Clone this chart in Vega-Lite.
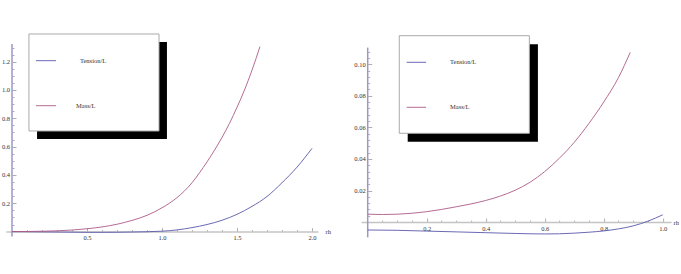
{
  "$schema": "https://vega.github.io/schema/vega-lite/v6.json",
  "padding": {"left": 1, "top": 30, "right": 0, "bottom": 0},
  "background": "white",
  "bounds": "flush",
  "spacing": 43.1,
  "config": {
    "view": {"stroke": null},
    "axis": {
      "labelFont": "Liberation Serif", "labelFontSize": 6.5, "labelColor": "#333",
      "titleFont": "Liberation Serif", "titleFontSize": 6.5, "titleFontWeight": "normal", "titleColor": "#333",
      "grid": false, "tickColor": "#999", "tickWidth": 0.8,
      "domainColor": "#c4c4c4", "domainWidth": 1.5, "labelOverlap": false, "labelFlush": false
    }
  },
  "datasets": {
    "leftCurves": [
      {"series": "Tension/L", "x": 0, "y": 0}, {"series": "Tension/L", "x": 0.1, "y": -0.001}, {"series": "Tension/L", "x": 0.2, "y": -0.002},
      {"series": "Tension/L", "x": 0.3, "y": -0.003}, {"series": "Tension/L", "x": 0.4, "y": -0.004}, {"series": "Tension/L", "x": 0.5, "y": -0.005},
      {"series": "Tension/L", "x": 0.6, "y": -0.005}, {"series": "Tension/L", "x": 0.7, "y": -0.0045}, {"series": "Tension/L", "x": 0.8, "y": -0.003},
      {"series": "Tension/L", "x": 0.9, "y": -0.001}, {"series": "Tension/L", "x": 1.0, "y": 0.003}, {"series": "Tension/L", "x": 1.1, "y": 0.012},
      {"series": "Tension/L", "x": 1.2, "y": 0.028}, {"series": "Tension/L", "x": 1.3, "y": 0.05}, {"series": "Tension/L", "x": 1.4, "y": 0.08},
      {"series": "Tension/L", "x": 1.5, "y": 0.122}, {"series": "Tension/L", "x": 1.6, "y": 0.178}, {"series": "Tension/L", "x": 1.7, "y": 0.248},
      {"series": "Tension/L", "x": 1.8, "y": 0.345}, {"series": "Tension/L", "x": 1.9, "y": 0.455}, {"series": "Tension/L", "x": 2.0, "y": 0.588},
      {"series": "Mass/L", "x": 0, "y": 0}, {"series": "Mass/L", "x": 0.1, "y": 0.0008}, {"series": "Mass/L", "x": 0.2, "y": 0.0025},
      {"series": "Mass/L", "x": 0.3, "y": 0.0055}, {"series": "Mass/L", "x": 0.4, "y": 0.011}, {"series": "Mass/L", "x": 0.5, "y": 0.02},
      {"series": "Mass/L", "x": 0.6, "y": 0.033}, {"series": "Mass/L", "x": 0.7, "y": 0.052}, {"series": "Mass/L", "x": 0.8, "y": 0.079},
      {"series": "Mass/L", "x": 0.9, "y": 0.115}, {"series": "Mass/L", "x": 1.0, "y": 0.168}, {"series": "Mass/L", "x": 1.1, "y": 0.24},
      {"series": "Mass/L", "x": 1.2, "y": 0.345}, {"series": "Mass/L", "x": 1.25, "y": 0.415}, {"series": "Mass/L", "x": 1.3, "y": 0.492},
      {"series": "Mass/L", "x": 1.35, "y": 0.575}, {"series": "Mass/L", "x": 1.4, "y": 0.665}, {"series": "Mass/L", "x": 1.45, "y": 0.765},
      {"series": "Mass/L", "x": 1.5, "y": 0.878}, {"series": "Mass/L", "x": 1.55, "y": 1.0}, {"series": "Mass/L", "x": 1.6, "y": 1.14},
      {"series": "Mass/L", "x": 1.653, "y": 1.306}
    ],
    "rightCurves": [
      {"series": "Tension/L", "x": 0, "y": -0.005}, {"series": "Tension/L", "x": 0.1, "y": -0.0052}, {"series": "Tension/L", "x": 0.2, "y": -0.0057},
      {"series": "Tension/L", "x": 0.3, "y": -0.0062}, {"series": "Tension/L", "x": 0.4, "y": -0.0067}, {"series": "Tension/L", "x": 0.5, "y": -0.0072},
      {"series": "Tension/L", "x": 0.6, "y": -0.0075}, {"series": "Tension/L", "x": 0.65, "y": -0.0074}, {"series": "Tension/L", "x": 0.7, "y": -0.007},
      {"series": "Tension/L", "x": 0.75, "y": -0.0064}, {"series": "Tension/L", "x": 0.8, "y": -0.0056}, {"series": "Tension/L", "x": 0.85, "y": -0.0043},
      {"series": "Tension/L", "x": 0.9, "y": -0.0024}, {"series": "Tension/L", "x": 0.95, "y": 0.0006}, {"series": "Tension/L", "x": 1.0, "y": 0.0046},
      {"series": "Mass/L", "x": 0, "y": 0.005}, {"series": "Mass/L", "x": 0.05, "y": 0.0048}, {"series": "Mass/L", "x": 0.1, "y": 0.005},
      {"series": "Mass/L", "x": 0.15, "y": 0.0056}, {"series": "Mass/L", "x": 0.2, "y": 0.0066}, {"series": "Mass/L", "x": 0.25, "y": 0.008},
      {"series": "Mass/L", "x": 0.3, "y": 0.0097}, {"series": "Mass/L", "x": 0.35, "y": 0.0115}, {"series": "Mass/L", "x": 0.4, "y": 0.0137},
      {"series": "Mass/L", "x": 0.45, "y": 0.0165}, {"series": "Mass/L", "x": 0.5, "y": 0.0202}, {"series": "Mass/L", "x": 0.55, "y": 0.0252},
      {"series": "Mass/L", "x": 0.6, "y": 0.032}, {"series": "Mass/L", "x": 0.65, "y": 0.0405}, {"series": "Mass/L", "x": 0.7, "y": 0.0505},
      {"series": "Mass/L", "x": 0.75, "y": 0.0625}, {"series": "Mass/L", "x": 0.8, "y": 0.076}, {"series": "Mass/L", "x": 0.85, "y": 0.0915},
      {"series": "Mass/L", "x": 0.89, "y": 0.1075}
    ],
    "leftAxisLine": [{"x": 0, "y": -0.035, "y2": 1.325}],
    "rightAxisLine": [{"x": 0, "y": -0.0097, "y2": 0.1105}],
    "leftBox": [
      {"part": "shadow", "x": 0.167, "x2": 1.033, "y": 0.654, "y2": 1.339},
      {"part": "box", "x": 0.113, "x2": 0.98, "y": 0.7105, "y2": 1.3955}
    ],
    "rightBox": [
      {"part": "shadow", "x": 0.1356, "x2": 0.577, "y": 0.0509, "y2": 0.1126},
      {"part": "box", "x": 0.107, "x2": 0.548, "y": 0.05624, "y2": 0.11805}
    ],
    "leftLegend": [
      {"series": "Tension/L", "x": 0.16, "x2": 0.293, "y": 1.2069, "tx": 0.453},
      {"series": "Mass/L", "x": 0.16, "x2": 0.293, "y": 0.8891, "tx": 0.427}
    ],
    "rightLegend": [
      {"series": "Tension/L", "x": 0.132, "x2": 0.198, "y": 0.1012, "tx": 0.279},
      {"series": "Mass/L", "x": 0.132, "x2": 0.198, "y": 0.0727, "tx": 0.279}
    ]
  },
  "hconcat": [
    {
      "width": 312, "height": 214,
      "resolve": {"axis": {"x": "independent", "y": "independent"}},
      "layer": [
        {
          "data": {"name": "leftAxisLine"},
          "mark": {"type": "rule", "color": "#9a98c8", "strokeWidth": 1.5},
          "encoding": {
            "x": {"field": "x", "type": "quantitative", "scale": {"domain": [-0.04, 2.04], "nice": false, "zero": false},
              "axis": {"orient": "bottom", "offset": -12.4, "values": [0.1,0.2,0.3,0.4,0.6,0.7,0.8,0.9,1.1,1.2,1.3,1.4,1.6,1.7,1.8,1.9], "tickSize": -2, "labels": false, "domain": false, "title": null}},
            "y": {"field": "y", "type": "quantitative", "scale": {"domain": [-0.08757, 1.4237], "nice": false, "zero": false},
              "axis": {"orient": "left", "offset": -6, "values": [0.05,0.1,0.15,0.25,0.3,0.35,0.45,0.5,0.55,0.65,0.7,0.75,0.85,0.9,0.95,1.05,1.1,1.15,1.25,1.3], "tickSize": -2, "labels": false, "domain": false, "title": null}},
            "y2": {"field": "y2"}
          }
        },
        {
          "data": {"name": "leftCurves"},
          "mark": {"type": "line", "strokeWidth": 0.9, "interpolate": "monotone"},
          "encoding": {
            "x": {"field": "x", "type": "quantitative", "scale": {"domain": [-0.04, 2.04], "nice": false, "zero": false},
              "axis": {"orient": "bottom", "offset": -12.4, "values": [0.5, 1, 1.5, 2], "format": ".1f", "tickSize": -4, "labelPadding": 7, "domain": true,
                "title": "rh", "titleX": 319, "titleY": 0, "titleAlign": "left", "titleBaseline": "middle", "titleAngle": 0}},
            "y": {"field": "y", "type": "quantitative", "scale": {"domain": [-0.08757, 1.4237], "nice": false, "zero": false},
              "axis": {"orient": "left", "offset": -6, "values": [0.2, 0.4, 0.6, 0.8, 1.0, 1.2], "format": ".1f", "tickSize": -4, "labelPadding": 6.5, "domain": false, "title": null}},
            "color": {"field": "series", "type": "nominal", "scale": {"domain": ["Tension/L", "Mass/L"], "range": ["#5a58ad", "#ad5a88"]}, "legend": null}
          }
        },
        {
          "data": {"name": "leftBox"},
          "transform": [{"filter": "datum.part === 'shadow'"}],
          "mark": {"type": "rect", "fill": "black"},
          "encoding": {
            "x": {"field": "x", "type": "quantitative", "scale": {"domain": [-0.04, 2.04], "nice": false, "zero": false}, "axis": null},
            "x2": {"field": "x2"},
            "y": {"field": "y", "type": "quantitative", "scale": {"domain": [-0.08757, 1.4237], "nice": false, "zero": false}, "axis": null},
            "y2": {"field": "y2"}
          }
        },
        {
          "data": {"name": "leftBox"},
          "transform": [{"filter": "datum.part === 'box'"}],
          "mark": {"type": "rect", "fill": "white", "stroke": "#aaaaaa", "strokeWidth": 1},
          "encoding": {
            "x": {"field": "x", "type": "quantitative", "scale": {"domain": [-0.04, 2.04], "nice": false, "zero": false}, "axis": null},
            "x2": {"field": "x2"},
            "y": {"field": "y", "type": "quantitative", "scale": {"domain": [-0.08757, 1.4237], "nice": false, "zero": false}, "axis": null},
            "y2": {"field": "y2"}
          }
        },
        {
          "data": {"name": "leftLegend"},
          "mark": {"type": "rule", "strokeWidth": 0.9},
          "encoding": {
            "x": {"field": "x", "type": "quantitative", "scale": {"domain": [-0.04, 2.04], "nice": false, "zero": false}, "axis": null},
            "x2": {"field": "x2"},
            "y": {"field": "y", "type": "quantitative", "scale": {"domain": [-0.08757, 1.4237], "nice": false, "zero": false}, "axis": null},
            "color": {"field": "series", "type": "nominal", "scale": {"domain": ["Tension/L", "Mass/L"], "range": ["#5a58ad", "#ad5a88"]}, "legend": null}
          }
        },
        {
          "data": {"name": "leftLegend"},
          "mark": {"type": "text", "align": "left", "baseline": "middle", "font": "Liberation Serif", "fontSize": 6.5, "color": "#333"},
          "encoding": {
            "x": {"field": "tx", "type": "quantitative", "scale": {"domain": [-0.04, 2.04], "nice": false, "zero": false}, "axis": null},
            "y": {"field": "y", "type": "quantitative", "scale": {"domain": [-0.08757, 1.4237], "nice": false, "zero": false}, "axis": null},
            "text": {"field": "series"}
          }
        }
      ]
    },
    {
      "width": 310, "height": 214,
      "resolve": {"axis": {"x": "independent", "y": "independent"}},
      "layer": [
        {
          "data": {"name": "rightAxisLine"},
          "mark": {"type": "rule", "color": "#9a98c8", "strokeWidth": 1.5},
          "encoding": {
            "x": {"field": "x", "type": "quantitative", "scale": {"domain": [-0.0224, 1.0285], "nice": false, "zero": false},
              "axis": {"orient": "bottom", "offset": -21.9, "values": [0.05,0.1,0.15,0.25,0.3,0.35,0.45,0.5,0.55,0.65,0.7,0.75,0.85,0.9,0.95], "tickSize": -2, "labels": false, "domain": false, "title": null}},
            "y": {"field": "y", "type": "quantitative", "scale": {"domain": [-0.01387, 0.12166], "nice": false, "zero": false},
              "axis": {"orient": "left", "offset": -6.6, "values": [0.004,0.008,0.012,0.016,0.024,0.028,0.032,0.036,0.044,0.048,0.052,0.056,0.064,0.068,0.072,0.076,0.084,0.088,0.092,0.096,0.104,0.108], "tickSize": -2, "labels": false, "domain": false, "title": null}},
            "y2": {"field": "y2"}
          }
        },
        {
          "data": {"name": "rightCurves"},
          "mark": {"type": "line", "strokeWidth": 0.9, "interpolate": "monotone"},
          "encoding": {
            "x": {"field": "x", "type": "quantitative", "scale": {"domain": [-0.0224, 1.0285], "nice": false, "zero": false},
              "axis": {"orient": "bottom", "offset": -21.9, "values": [0.2, 0.4, 0.6, 0.8, 1.0], "format": ".1f", "tickSize": -4, "labelPadding": 7, "domain": true,
                "title": "rh", "titleX": 312, "titleY": 0, "titleAlign": "left", "titleBaseline": "middle", "titleAngle": 0}},
            "y": {"field": "y", "type": "quantitative", "scale": {"domain": [-0.01387, 0.12166], "nice": false, "zero": false},
              "axis": {"orient": "left", "offset": -6.6, "values": [0.02, 0.04, 0.06, 0.08, 0.1], "format": ".2f", "tickSize": -4, "labelPadding": 6.5, "domain": false, "title": null}},
            "color": {"field": "series", "type": "nominal", "scale": {"domain": ["Tension/L", "Mass/L"], "range": ["#5a58ad", "#ad5a88"]}, "legend": null}
          }
        },
        {
          "data": {"name": "rightBox"},
          "transform": [{"filter": "datum.part === 'shadow'"}],
          "mark": {"type": "rect", "fill": "black"},
          "encoding": {
            "x": {"field": "x", "type": "quantitative", "scale": {"domain": [-0.0224, 1.0285], "nice": false, "zero": false}, "axis": null},
            "x2": {"field": "x2"},
            "y": {"field": "y", "type": "quantitative", "scale": {"domain": [-0.01387, 0.12166], "nice": false, "zero": false}, "axis": null},
            "y2": {"field": "y2"}
          }
        },
        {
          "data": {"name": "rightBox"},
          "transform": [{"filter": "datum.part === 'box'"}],
          "mark": {"type": "rect", "fill": "white", "stroke": "#aaaaaa", "strokeWidth": 1},
          "encoding": {
            "x": {"field": "x", "type": "quantitative", "scale": {"domain": [-0.0224, 1.0285], "nice": false, "zero": false}, "axis": null},
            "x2": {"field": "x2"},
            "y": {"field": "y", "type": "quantitative", "scale": {"domain": [-0.01387, 0.12166], "nice": false, "zero": false}, "axis": null},
            "y2": {"field": "y2"}
          }
        },
        {
          "data": {"name": "rightLegend"},
          "mark": {"type": "rule", "strokeWidth": 0.9},
          "encoding": {
            "x": {"field": "x", "type": "quantitative", "scale": {"domain": [-0.0224, 1.0285], "nice": false, "zero": false}, "axis": null},
            "x2": {"field": "x2"},
            "y": {"field": "y", "type": "quantitative", "scale": {"domain": [-0.01387, 0.12166], "nice": false, "zero": false}, "axis": null},
            "color": {"field": "series", "type": "nominal", "scale": {"domain": ["Tension/L", "Mass/L"], "range": ["#5a58ad", "#ad5a88"]}, "legend": null}
          }
        },
        {
          "data": {"name": "rightLegend"},
          "mark": {"type": "text", "align": "left", "baseline": "middle", "font": "Liberation Serif", "fontSize": 6.5, "color": "#333"},
          "encoding": {
            "x": {"field": "tx", "type": "quantitative", "scale": {"domain": [-0.0224, 1.0285], "nice": false, "zero": false}, "axis": null},
            "y": {"field": "y", "type": "quantitative", "scale": {"domain": [-0.01387, 0.12166], "nice": false, "zero": false}, "axis": null},
            "text": {"field": "series"}
          }
        }
      ]
    }
  ]
}
